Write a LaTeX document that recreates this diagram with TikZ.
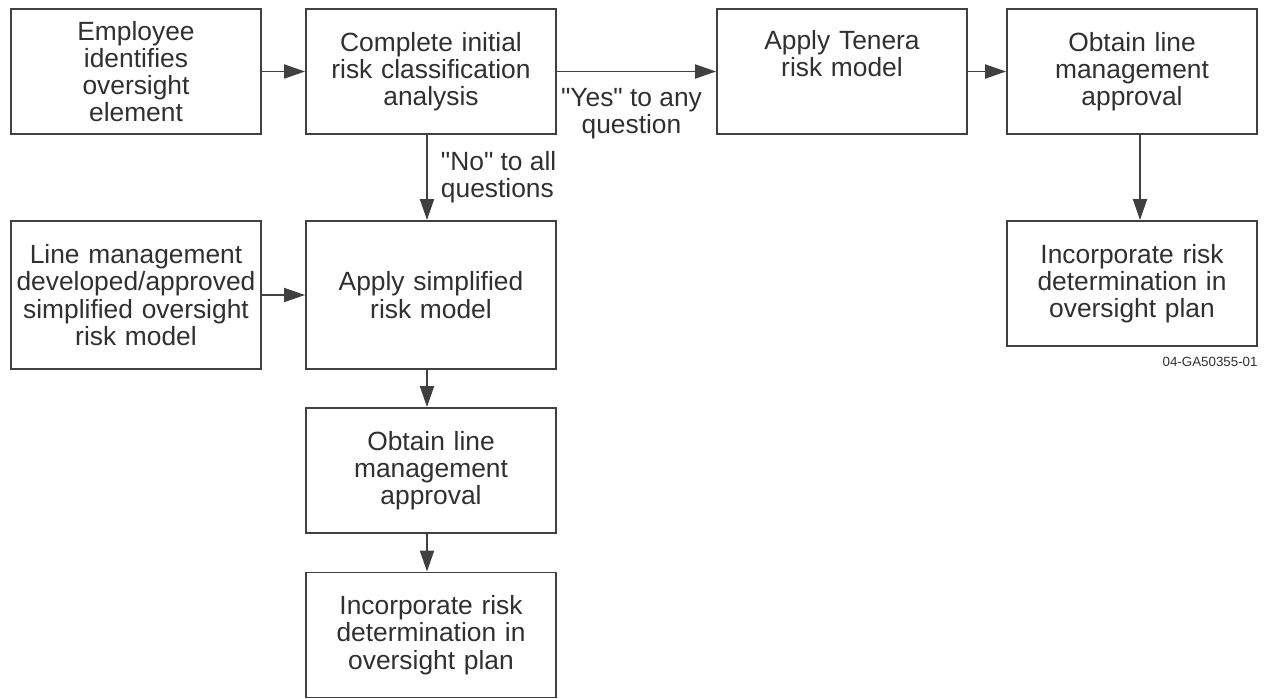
\documentclass[tikz,border=0pt]{standalone}
\usepackage{fontspec}
\setmainfont{Liberation Sans}
\newfontfamily\flowfont{Liberation Sans}
\usetikzlibrary{arrows.meta,positioning}
\definecolor{linegray}{HTML}{404040}
\definecolor{inkgray}{HTML}{303030}
\begin{document}
\begin{tikzpicture}[x=0.02cm,y=-0.02cm,
  stepbox/.style={draw=linegray,line width=1.1pt,fill=white,text=inkgray,minimum width=5cm,minimum height=2.5cm,text width=4.9cm,align=center,inner sep=0pt,font=\flowfont\fontsize{15}{15.5}\selectfont},
  tallbox/.style={stepbox,minimum height=2.96cm},
  flow/.style={draw=linegray,line width=1.1pt,-{Triangle[length=0.42cm,width=0.28cm]}},
  lbl/.style={text=inkgray,inner sep=0pt,font=\flowfont\fontsize{15}{15.5}\selectfont},
  idlbl/.style={text=inkgray,inner sep=0pt,font=\flowfont\fontsize{7.6}{9}\selectfont}]
\useasboundingbox (0,0) rectangle (1269,698);
\node[stepbox] (employee) at (136,71.5) {Employee\\identifies\\oversight\\element};
\node[stepbox] (initial) at (431,71.5) {Complete initial\\risk classification\\analysis};
\node[stepbox] (tenera) at (842,71.5) {Apply Tenera\\risk model\\\strut};
\node[stepbox] (approveA) at (1132,71.5) {Obtain line\\management\\approval};
\node[stepbox] (planA) at (1132,283.5) {Incorporate risk\\determination in\\oversight plan};
\node[tallbox] (linemodel) at (136,295) {Line management\\developed/approved\\simplified oversight\\risk model};
\node[tallbox] (simple) at (431,295) {Apply simplified\\risk model};
\node[stepbox] (approveB) at (431,470.5) {Obtain line\\management\\approval};
\node[stepbox] (planB) at (431,635) {Incorporate risk\\determination in\\oversight plan};
\node[idlbl,below left=0.19cm and 0cm of planA.south east] (figid) {04-GA50355-01};
\draw[flow] (employee) -- (initial);
\draw[flow] (initial) -- node[lbl,anchor=north,yshift=-0.31cm,xshift=-0.1cm,align=center] (yes) {"Yes" to any\\question} (tenera);
\draw[flow] (tenera) -- (approveA);
\draw[flow] ([xshift=0.16cm]approveA.south) -- ([xshift=0.16cm]planA.north);
\draw[flow] ([xshift=-0.08cm]initial.south) -- node[lbl,right=0.26cm,align=left] (no) {"No" to all\\questions} ([xshift=-0.08cm]simple.north);
\draw[flow] (linemodel) -- (simple);
\draw[flow] ([xshift=-0.08cm]simple.south) -- ([xshift=-0.08cm]approveB.north);
\draw[flow] ([xshift=-0.08cm]approveB.south) -- ([xshift=-0.08cm]planB.north);
\end{tikzpicture}
\end{document}
